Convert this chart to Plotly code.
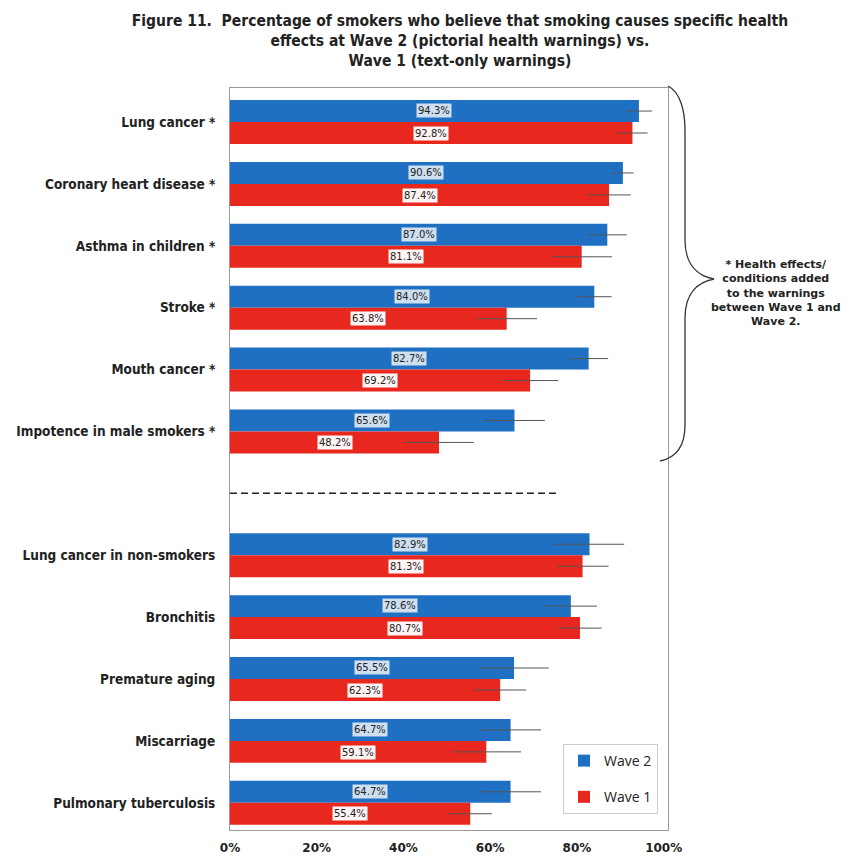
import plotly.graph_objects as go

categories = [
    "Lung cancer *", "Coronary heart disease *", "Asthma in children *", "Stroke *",
    "Mouth cancer *", "Impotence in male smokers *",
    "Lung cancer in non-smokers", "Bronchitis", "Premature aging", "Miscarriage",
    "Pulmonary tuberculosis",
]
positions = [0, 1, 2, 3, 4, 5, 7, 8, 9, 10, 11]
wave2 = [94.3, 90.6, 87.0, 84.0, 82.7, 65.6, 82.9, 78.6, 65.5, 64.7, 64.7]
wave1 = [92.8, 87.4, 81.1, 63.8, 69.2, 48.2, 81.3, 80.7, 62.3, 59.1, 55.4]
wave2_err = [3.0, 2.5, 4.5, 4.0, 4.5, 7.0, 8.0, 6.0, 8.0, 7.0, 7.0]
wave1_err = [3.5, 5.0, 7.0, 7.0, 6.5, 8.0, 6.0, 5.0, 6.0, 8.0, 5.0]
xticks = [0, 20, 40, 60, 80, 100]
xticklabels = ["0%", "20%", "40%", "60%", "80%", "100%"]

BLUE = "#1f6fc2"
RED = "#e8281f"
FONT = "DejaVu Sans"
COND = "DejaVu Sans Condensed, DejaVu Sans"

# page body has an 8px margin; figure is sized to fit the 854x858 window
OFF = 8
W, H = 854 - OFF, 858 - OFF
L, T, R, B = 230 - OFF, 88 - OFF, 854 - 668, 858 - 830

fig = go.Figure()
fig.add_trace(go.Bar(
    name="Wave 2", y=positions, x=wave2, orientation="h",
    marker=dict(color=BLUE, line=dict(width=0)),
    error_x=dict(type="data", array=wave2_err, color="#555555", thickness=1, width=0),
    legendgroup="w2",
))
fig.add_trace(go.Bar(
    name="Wave 1", y=positions, x=wave1, orientation="h",
    marker=dict(color=RED, line=dict(width=0)),
    error_x=dict(type="data", array=wave1_err, color="#555555", thickness=1, width=0),
    legendgroup="w1",
))

# value labels with boxed background
for p, v in zip(positions, wave2):
    fig.add_annotation(x=v / 2, y=p - 0.18, text=f"{v:.1f}%", showarrow=False,
                       font=dict(family=FONT, size=10, color="#222"),
                       bgcolor="rgba(225,235,245,0.9)", borderpad=1)
for p, v in zip(positions, wave1):
    fig.add_annotation(x=v / 2, y=p + 0.18, text=f"{v:.1f}%", showarrow=False,
                       font=dict(family=FONT, size=10, color="#222"),
                       bgcolor="rgba(255,255,255,0.95)", borderpad=1)

# dashed separator
fig.add_shape(type="line", xref="x", yref="y", x0=0, x1=76, y0=6, y1=6,
              line=dict(color="#222", width=1.5, dash="7px,4px"))

# curly brace (paper coords, given in page pixels)
def px(xp):
    return (xp - 230) / 438.0
def py(yp):
    return (830 - yp) / 742.0

brace = (f"M {px(668)},{py(86)} "
         f"C {px(680)},{py(92)} {px(685)},{py(110)} {px(685)},{py(130)} "
         f"L {px(685)},{py(240)} "
         f"C {px(685)},{py(265)} {px(698)},{py(276)} {px(714)},{py(279)} "
         f"C {px(698)},{py(282)} {px(685)},{py(293)} {px(685)},{py(318)} "
         f"L {px(685)},{py(425)} "
         f"C {px(685)},{py(448)} {px(675)},{py(458)} {px(660)},{py(461)}")
fig.add_shape(type="path", xref="paper", yref="paper", path=brace,
              line=dict(color="#333", width=1.3))

fig.add_annotation(xref="paper", yref="paper", x=px(776), y=py(293),
                   xanchor="center", yanchor="middle",
                   text="<b>* Health effects/<br>conditions added<br>to the warnings<br>between Wave 1 and<br>Wave 2.</b>",
                   showarrow=False, align="center",
                   font=dict(family=FONT, size=11, color="#222"))

fig.update_layout(
    width=W, height=H,
    margin=dict(l=L, r=R, t=T, b=B, autoexpand=False),
    paper_bgcolor="white", plot_bgcolor="white",
    barmode="group", bargap=0.29, bargroupgap=0.0,
    title=dict(
        text="<b>Figure 11.  Percentage of smokers who believe that smoking causes specific health<br>effects at Wave 2 (pictorial health warnings) vs.<br>Wave 1 (text-only warnings)</b>",
        x=(460 - OFF) / W, xanchor="center", y=1 - 18 / H, yanchor="top",
        font=dict(family=COND, size=15.5, color="#222"),
    ),
    legend=dict(
        x=px(563), xanchor="left", y=py(744), yanchor="top",
        bgcolor="white", bordercolor="#cccccc", borderwidth=1,
        font=dict(family="Open Sans", size=14, color="#222"),
        tracegroupgap=15, traceorder="grouped",
        itemwidth=30,
    ),
    xaxis=dict(
        range=[0, 101], tickvals=xticks, ticktext=xticklabels,
        showgrid=False, zeroline=False, showline=True, mirror=True,
        linecolor="#999", linewidth=1, ticks="", ticklabelstandoff=7,
        automargin=False,
        tickfont=dict(family=FONT, size=12, color="#222", weight="bold"),
    ),
    yaxis=dict(
        range=[11.44, -0.55], tickvals=positions, ticktext=categories,
        showgrid=False, zeroline=False, showline=True, mirror=True,
        linecolor="#999", linewidth=1, ticks="", ticklabelstandoff=11,
        automargin=False,
        tickfont=dict(family=COND, size=13.5, color="#222", weight="bold"),
    ),
)

fig.write_html("out.html")
